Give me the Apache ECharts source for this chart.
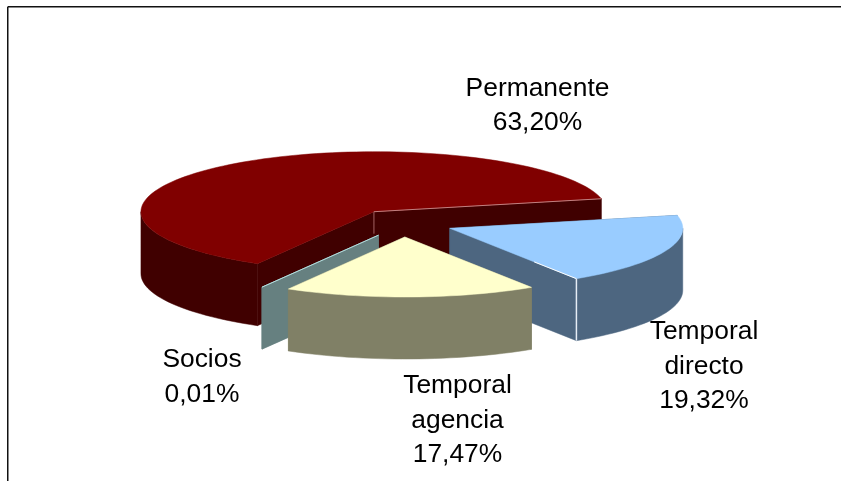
<!DOCTYPE html>
<html>
<head>
<meta charset="utf-8">
<style>
  html, body { margin: 0; padding: 0; background: #fff; }
  #chart { width: 841px; height: 481px; }
</style>
</head>
<body>
<div id="chart"></div>
<script src="https://cdn.jsdelivr.net/npm/echarts@6/dist/echarts.min.js"></script>
<script>
  // valores
  const categories = ['Permanente', 'Temporal directo', 'Temporal agencia', 'Socios'];
  const values = [63.2, 19.32, 17.47, 0.01];
  const labelLines = [['Permanente'], ['Temporal', 'directo'], ['Temporal', 'agencia'], ['Socios']];

  // estilo y layout
  const topColors = ['#800000', '#99ccff', '#ffffcc', '#ccffff'];
  const wallColors = ['#400000', '#4d6680', '#808066', '#668080'];
  const labelPos = [[537.5, 88.5], [704, 332], [457.5, 386], [202, 360]];
  const drawOrder = [0, 3, 1, 2];
  const center = [403.5, 223];
  const radius = [233, 60];
  const explode = [50, 14];
  const depth = 62;
  const startAngle = 120;
  const lineHeight = 34.4;

  const total = values.reduce((a, b) => a + b, 0);
  const toRad = Math.PI / 180;

  let acc = startAngle;
  const slices = values.map((v) => {
    const a1 = acc;
    const a2 = acc + (v / total) * 360;
    acc = a2;
    const mid = ((a1 + a2) / 2) * toRad;
    return {
      a1,
      a2,
      cx: center[0] + explode[0] * Math.cos(mid),
      cy: center[1] + explode[1] * Math.sin(mid),
    };
  });

  const rimPoint = (s, deg, dy) => [
    s.cx + radius[0] * Math.cos(deg * toRad),
    s.cy + radius[1] * Math.sin(deg * toRad) + (dy || 0),
  ];

  const arcPoints = (s, from, to, dy) => {
    const pts = [];
    const steps = Math.max(1, Math.ceil(Math.abs(to - from) / 2));
    for (let i = 0; i <= steps; i++) {
      pts.push(rimPoint(s, from + ((to - from) * i) / steps, dy));
    }
    return pts;
  };

  const poly = (points, fill) => ({
    type: 'polygon',
    shape: { points },
    style: { fill, stroke: fill, lineWidth: 0.5 },
  });

  const line = (p1, p2, stroke, lineWidth) => ({
    type: 'line',
    shape: { x1: p1[0], y1: p1[1], x2: p2[0], y2: p2[1] },
    style: { stroke, lineWidth },
  });

  const formatPct = (v) => v.toFixed(2).replace('.', ',') + '%';

  function renderSlice(params, api) {
    const idx = api.value(0);
    const s = slices[idx];
    const wall = wallColors[idx];
    const apex = [s.cx, s.cy];
    const children = [];

    // caras del corte
    [s.a1, s.a2].forEach((a) => {
      const p = rimPoint(s, a);
      const q = rimPoint(s, a, depth);
      children.push(poly([apex, p, q, [apex[0], apex[1] + depth]], wall));
    });

    // pared exterior, solo la parte frontal
    [0, 360].forEach((base) => {
      const from = Math.max(s.a1, base);
      const to = Math.min(s.a2, base + 180);
      if (to > from) {
        children.push(poly(arcPoints(s, from, to).concat(arcPoints(s, to, from, depth)), wall));
      }
    });

    // tapa
    children.push(poly([apex].concat(arcPoints(s, s.a1, s.a2)), topColors[idx]));

    // brillos de los bordes
    if (idx === 0) {
      children.push(line(apex, rimPoint(s, s.a2), '#c08080', 1));
      children.push(line(apex, [apex[0], apex[1] + 22], '#a06060', 1));
    }
    if (idx === 1) {
      const corner = rimPoint(s, s.a2);
      children.push(line(corner, rimPoint(s, s.a2, depth), '#e6edf5', 1.5));
      children.push(line([(apex[0] + corner[0] * 2) / 3, (apex[1] + corner[1] * 2) / 3], corner, '#ffffff', 1));
    }

    // etiqueta
    const text = labelLines[idx].concat(formatPct(values[idx]));
    text.forEach((t, i) => {
      children.push({
        type: 'text',
        z2: 10,
        style: {
          text: t,
          x: labelPos[idx][0],
          y: labelPos[idx][1] + i * lineHeight,
          fill: '#000',
          font: '26.4px "Liberation Sans", Arial, sans-serif',
          align: 'center',
          verticalAlign: 'middle',
        },
      });
    });

    return { type: 'group', children };
  }

  const myChart = echarts.init(document.getElementById('chart'), null, { renderer: 'canvas' });
  const option = {
    animation: false,
    backgroundColor: '#ffffff',
    graphic: [
      { type: 'line', shape: { x1: 7.75, y1: 6.75, x2: 841, y2: 6.75 }, style: { stroke: '#111', lineWidth: 1.5 } },
      { type: 'line', shape: { x1: 7.75, y1: 6.75, x2: 7.75, y2: 481 }, style: { stroke: '#111', lineWidth: 1.5 } },
    ],
    series: [
      {
        type: 'custom',
        coordinateSystem: 'none',
        silent: true,
        renderItem: renderSlice,
        data: drawOrder.map((i) => ({ name: categories[i], value: [i, values[i]] })),
      },
    ],
  };
  myChart.setOption(option);
</script>
</body>
</html>
